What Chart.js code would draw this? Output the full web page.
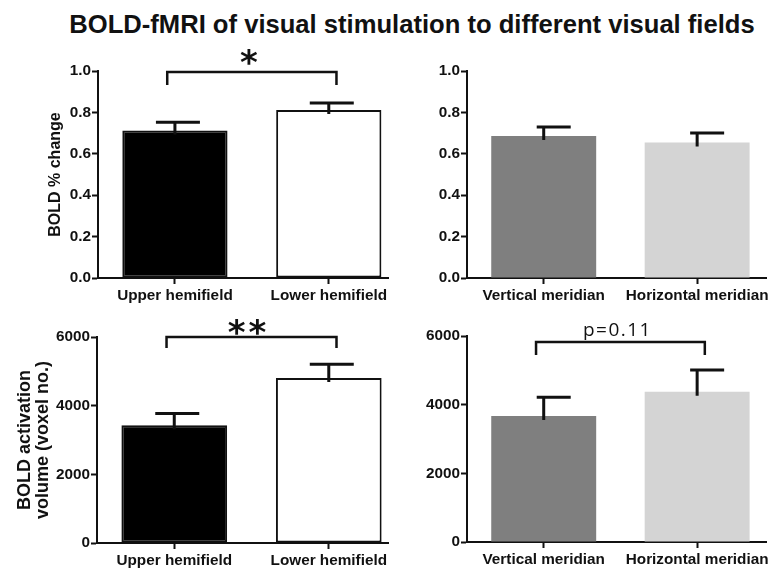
<!DOCTYPE html>
<html>
<head>
<meta charset="utf-8">
<script src="https://cdn.jsdelivr.net/npm/chart.js@4.4.1/dist/chart.umd.min.js"></script>
<style>
  body { margin: 0; background: #fff; }
  #wrap { position: relative; width: 772px; height: 572px; overflow: hidden; }
  .title {
    position: absolute; left: 42px; width: 740px; top: 10px;
    text-align: center; color: #111; line-height: 28px;
    font: bold 25.6px 'Liberation Sans', Arial, sans-serif;
  }
  .panel { position: absolute; }
</style>
</head>
<body>
<div id="wrap">
  <div class="title">BOLD-fMRI of visual stimulation to different visual fields</div>
  <div class="panel" style="left:0;top:40px;width:390px;height:272px"><canvas id="c1"></canvas></div>
  <div class="panel" style="left:390px;top:40px;width:382px;height:272px"><canvas id="c2"></canvas></div>
  <div class="panel" style="left:0;top:305px;width:390px;height:267px"><canvas id="c3"></canvas></div>
  <div class="panel" style="left:390px;top:305px;width:382px;height:267px"><canvas id="c4"></canvas></div>
</div>
<script>
// categories
const hemiLabels = ["Upper hemifield", "Lower hemifield"];
const meridLabels = ["Vertical meridian", "Horizontal meridian"];

// BOLD % change (mean, SEM)
const pctHemi = [0.713, 0.812];
const pctHemiErr = [0.040, 0.034];
const pctMerid = [0.686, 0.654];
const pctMeridErr = [0.044, 0.046];

// activation volume, voxel count (mean, SEM)
const volHemi = [3430, 4806];
const volHemiErr = [340, 400];
const volMerid = [3670, 4378];
const volMeridErr = [545, 632];

// y ticks
const pctTicks = [0, 0.2, 0.4, 0.6, 0.8, 1.0];
const volTicks = [0, 2000, 4000, 6000];

// significance brackets: [bracket top, leg end, label position] in y units
const sigLabels = ["*", "", "**", "p=0.11"];
const sigLevels = [[0.995, 0.932, 1.03], null, [6000, 5680, 6050], [5825, 5447, 6146]];

const ink = "#111";
Chart.defaults.font.family = "'Liberation Sans', Arial, sans-serif";
Chart.defaults.color = ink;

// error bars + bracket, drawn after the bars
function makeMarks(errors, cap, sigText, sigY, sigFont, sigSpacing) {
  return {
    id: "marks",
    afterDatasetsDraw(chart) {
      const ctx = chart.ctx;
      const xs = chart.scales.x;
      const ys = chart.scales.y;
      const ds = chart.data.datasets[0];
      const meta = chart.getDatasetMeta(0);
      ctx.save();
      ctx.strokeStyle = ink;
      ctx.lineWidth = 3;
      meta.data.forEach((bar, i) => {
        const v = ds.data[i].y;
        const top = ys.getPixelForValue(v + errors[i]);
        ctx.beginPath();
        ctx.moveTo(bar.x, top);
        ctx.lineTo(bar.x, bar.y + 4);
        ctx.moveTo(bar.x - cap[0], top);
        ctx.lineTo(bar.x + cap[1], top);
        ctx.stroke();
      });
      if (sigY) {
        const x1 = xs.getPixelForValue(-0.05);
        const x2 = xs.getPixelForValue(1.05);
        const yt = ys.getPixelForValue(sigY[0]);
        const yl = ys.getPixelForValue(sigY[1]);
        ctx.lineWidth = 2.5;
        ctx.beginPath();
        ctx.moveTo(x1, yl);
        ctx.lineTo(x1, yt);
        ctx.lineTo(x2, yt);
        ctx.lineTo(x2, yl);
        ctx.stroke();
        ctx.fillStyle = ink;
        ctx.font = sigFont;
        ctx.letterSpacing = sigSpacing || "0px";
        ctx.textAlign = "center";
        ctx.textBaseline = "middle";
        ctx.fillText(sigText, (x1 + x2) / 2 - 3, ys.getPixelForValue(sigY[2]));
      }
      ctx.restore();
    }
  };
}

function makeChart(id, cfg) {
  const ticks = cfg.ticks;
  return new Chart(document.getElementById(id), {
    type: "bar",
    data: {
      datasets: [{
        data: cfg.values.map((v, i) => ({ x: i, y: v })),
        backgroundColor: cfg.colors,
        borderColor: cfg.borders,
        borderWidth: cfg.borderWidth,
        borderSkipped: false,
        categoryPercentage: 1,
        barPercentage: 0.684
      }]
    },
    options: {
      responsive: true,
      maintainAspectRatio: false,
      animation: false,
      layout: { padding: { left: cfg.padLeft, top: cfg.padTop, right: cfg.padRight, bottom: 0 } },
      plugins: { legend: { display: false }, tooltip: { enabled: false } },
      scales: {
        x: {
          type: "linear",
          offset: false,
          min: -0.5,
          max: cfg.xMax,
          afterBuildTicks: (axis) => { axis.ticks = cfg.labels.map((c, i) => ({ value: i })); },
          afterFit: (s) => { s.height = cfg.xHeight; },
          ticks: {
            callback: (v) => cfg.labels[v],
            autoSkip: false, maxRotation: 0, padding: 3,
            font: { size: 15.3, weight: "bold" }
          },
          grid: { offset: false, drawOnChartArea: false, tickLength: 6, tickWidth: 2, tickColor: ink },
          border: { color: ink, width: 2 }
        },
        y: {
          min: ticks[0],
          max: ticks[ticks.length - 1],
          afterBuildTicks: (axis) => { axis.ticks = ticks.map((t) => ({ value: t })); },
          afterFit: (s) => { s.width = cfg.yWidth; },
          ticks: {
            callback: cfg.fmt,
            padding: 1,
            font: { size: 15.3, weight: "bold" }
          },
          title: {
            display: !!cfg.yTitle,
            text: cfg.yTitle,
            padding: { top: 4, bottom: 0 },
            font: cfg.yTitleFont
          },
          grid: { drawOnChartArea: false, tickLength: 6, tickWidth: 2, tickColor: ink },
          border: { color: ink, width: 2 }
        }
      }
    },
    plugins: [makeMarks(cfg.errors, cfg.cap, cfg.sigText, cfg.sigY, cfg.sigFont, cfg.sigSpacing)]
  });
}

const starFont = "bold 34px 'DejaVu Sans'";

makeChart("c1", {
  labels: hemiLabels, values: pctHemi, errors: pctHemiErr,
  colors: ["#000", "#fff"], borders: ink, borderWidth: 2,
  ticks: pctTicks, fmt: (v) => v.toFixed(1),
  yTitle: "BOLD % change", yTitleFont: { size: 16, weight: "bold", lineHeight: 1.2 },
  padLeft: 42, yWidth: 56, padTop: 31, padRight: 0, xHeight: 34, xMax: 1.385,
  cap: [19, 25], sigText: sigLabels[0], sigY: sigLevels[0], sigFont: starFont
});

makeChart("c2", {
  labels: meridLabels, values: pctMerid, errors: pctMeridErr,
  colors: ["#7f7f7f", "#d4d4d4"], borders: ["#7f7f7f", "#d4d4d4"], borderWidth: 0,
  ticks: pctTicks, fmt: (v) => v.toFixed(1),
  yTitle: "",
  padLeft: 0, yWidth: 77, padTop: 31, padRight: 2, xHeight: 34, xMax: 1.45,
  cap: [7, 27], sigText: sigLabels[1], sigY: sigLevels[1], sigFont: starFont
});

makeChart("c3", {
  labels: hemiLabels, values: volHemi, errors: volHemiErr,
  colors: ["#000", "#fff"], borders: ink, borderWidth: 2,
  ticks: volTicks, fmt: (v) => String(v),
  yTitle: ["BOLD activation", "volume (voxel no.)"], yTitleFont: { size: 18, weight: "bold", lineHeight: 1.0 },
  padLeft: 12, yWidth: 85, padTop: 32, padRight: 0, xHeight: 29, xMax: 1.385,
  cap: [19, 25], sigText: sigLabels[2], sigY: sigLevels[2], sigFont: starFont, sigSpacing: "3px"
});

makeChart("c4", {
  labels: meridLabels, values: volMerid, errors: volMeridErr,
  colors: ["#7f7f7f", "#d4d4d4"], borders: ["#7f7f7f", "#d4d4d4"], borderWidth: 0,
  ticks: volTicks, fmt: (v) => String(v),
  yTitle: "",
  padLeft: 0, yWidth: 77, padTop: 31, padRight: 2, xHeight: 30, xMax: 1.45,
  cap: [7, 27], sigText: sigLabels[3], sigY: sigLevels[3], sigFont: "19px 'Open Sans'", sigSpacing: "1.5px"
});
</script>
</body>
</html>
